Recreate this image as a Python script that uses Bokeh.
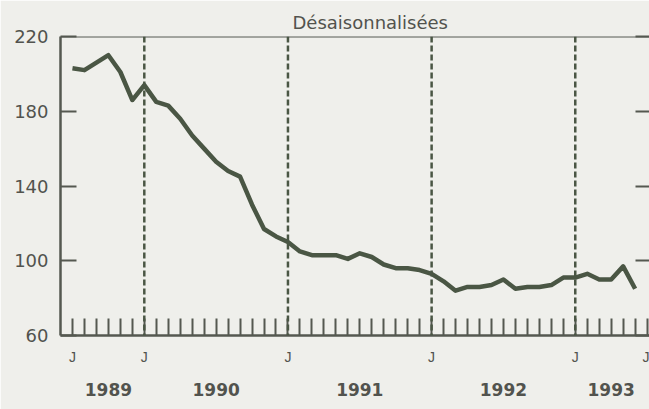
import pandas as pd
from bokeh.plotting import figure
from bokeh.models import LinearAxis, FixedTicker, Span, Range1d
from bokeh.embed import file_html
from bokeh.resources import INLINE

# ---------------- data ----------------
title_text = "Désaisonnalisées"
start_month = "1989-07"
values = [203, 202, 206, 210, 201, 186, 194, 185, 183, 176, 167, 160,
          153, 148, 145, 130, 117, 113, 110, 105, 103, 103, 103, 101,
          104, 102, 98, 96, 96, 95, 93, 89, 84, 86, 86, 87,
          90, 85, 86, 86, 87, 91, 91, 93, 90, 90, 97, 85]
y_ticks = [60, 100, 140, 180, 220]
# month positions counted from July 1989
month_ticks = list(range(0, 49))          # July 1989 .. July 1993
j_ticks = [0, 6, 18, 30, 42, 48]          # labelled "J"
j_label = "J"
jan_lines = [6, 18, 30, 42]               # January 1990 .. January 1993
years = ["1989", "1990", "1991", "1992", "1993"]
year_pos = [3, 12, 24, 36, 45]

dates = pd.date_range(start_month, periods=len(values), freq="MS")
x = [(d.year - 1989) * 12 + d.month - 7 for d in dates]

# ---------------- style ----------------
BG = "#efefeb"
INK = "#555850"
LINE = "#4a5644"
TXT = "#52534e"

p = figure(width=649, height=409, output_backend="svg", toolbar_location=None,
           x_range=Range1d(-1, 48.2), y_range=Range1d(y_ticks[0], y_ticks[-1]),
           min_border_left=60, min_border_right=0, min_border_top=36,
           min_border_bottom=74)
p.background_fill_color = BG
p.border_fill_color = BG
p.outline_line_color = None
p.xgrid.visible = False
p.ygrid.visible = False

p.title.text = title_text
p.title.align = "left"
p.title.offset = 232
p.title.standoff = 8
p.title.text_font = "DejaVu Sans"
p.title.text_font_size = "18px"
p.title.text_font_style = "normal"
p.title.text_color = TXT

# left axis
ya = p.yaxis[0]
ya.ticker = FixedTicker(ticks=y_ticks)
ya.major_tick_in = 16
ya.major_tick_out = 0
ya.minor_tick_line_color = None
ya.axis_line_width = 2.5
ya.axis_line_color = INK
ya.major_tick_line_width = 2
ya.major_tick_line_color = INK
ya.major_label_standoff = 12
ya.major_label_text_font = "DejaVu Sans"
ya.major_label_text_font_size = "18px"
ya.major_label_text_color = TXT

# right axis (ticks only)
ra = LinearAxis(ticker=FixedTicker(ticks=y_ticks), major_tick_in=14, major_tick_out=0,
                axis_line_color=None, major_tick_line_color=INK, major_tick_line_width=2,
                minor_tick_line_color=None,
                major_label_overrides={t: "" for t in y_ticks},
                major_label_standoff=0)
p.add_layout(ra, "right")

# bottom axis with month ticks
xa = p.xaxis[0]
xa.ticker = FixedTicker(ticks=month_ticks)
xa.major_label_overrides = {t: (j_label if t in j_ticks else "") for t in month_ticks}
xa.major_tick_in = 17
xa.major_tick_out = 0
xa.minor_tick_line_color = None
xa.axis_line_width = 2.5
xa.axis_line_color = INK
xa.major_tick_line_width = 2
xa.major_tick_line_color = INK
xa.major_label_standoff = 13
xa.major_label_text_font = "Liberation Sans"
xa.major_label_text_font_size = "14px"
xa.major_label_text_color = TXT

# year labels
yr = LinearAxis(ticker=FixedTicker(ticks=year_pos),
                major_label_overrides=dict(zip(year_pos, years)),
                axis_line_color=None, major_tick_line_color=None,
                minor_tick_line_color=None, major_label_standoff=9,
                major_label_text_font="DejaVu Sans",
                major_label_text_font_size="17px",
                major_label_text_font_style="bold",
                major_label_text_color=TXT)
p.add_layout(yr, "below")

# top border
p.add_layout(Span(location=y_ticks[-1], dimension="width", line_color=INK, line_width=2))

# dashed January lines
for v in jan_lines:
    p.add_layout(Span(location=v, dimension="height", line_color=LINE,
                      line_width=2.5, line_dash="6 3"))

p.line(x, values, line_width=4.5, line_color=LINE, line_join="round")

open("out.html", "w").write(file_html(p, INLINE))
